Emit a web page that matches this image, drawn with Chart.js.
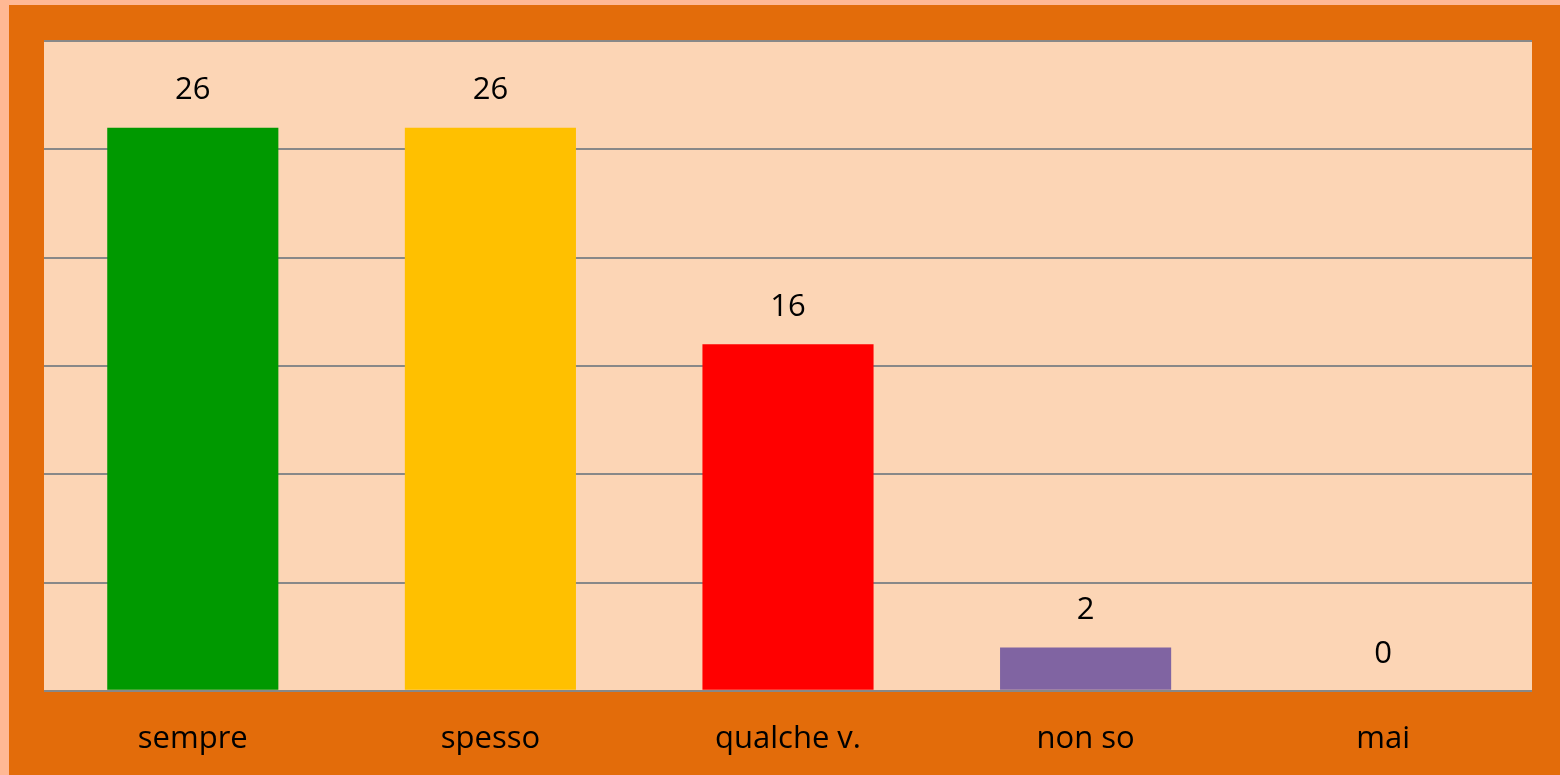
<!DOCTYPE html>
<html>
<head>
<meta charset="utf-8">
<script src="https://cdn.jsdelivr.net/npm/chart.js@4"></script>
<style>
  html, body { margin: 0; padding: 0; background: #FFB894; }
  #wrap { width: 1560px; height: 775px; position: relative; }
</style>
</head>
<body>
<div id="wrap"><canvas id="chart1"></canvas></div>
<script>
const labels = ['sempre', 'spesso', 'qualche v.', 'non so', 'mai'];
const values = [26, 26, 16, 2, 0];
const colors = ['#009900', '#FFC000', '#FF0000', '#8064A2', '#4F81BD'];
const yMax = 30;
const yStep = 5;

// sfondo arancione + area grafico color pesca
const background = {
    id: 'background',
    beforeDraw(chart) {
        const ctx = chart.ctx;
        const a = chart.chartArea;
        ctx.save();
        ctx.fillStyle = '#FFB894';
        ctx.fillRect(0, 0, chart.width, chart.height);
        ctx.fillStyle = '#E36C0A';
        ctx.fillRect(9, 5, chart.width - 9, chart.height - 5);
        ctx.fillStyle = '#FCD5B5';
        ctx.fillRect(a.left, a.top, a.right - a.left, a.bottom - a.top);
        ctx.restore();
    }
};

// etichette con i valori sopra le barre
const valueLabels = {
    id: 'valueLabels',
    afterDatasetsDraw(chart) {
        const ctx = chart.ctx;
        const meta = chart.getDatasetMeta(0);
        ctx.save();
        ctx.fillStyle = '#000';
        ctx.font = '31px "Open Sans"';
        ctx.textAlign = 'center';
        ctx.textBaseline = 'middle';
        meta.data.forEach((bar, i) => {
            ctx.fillText(values[i], bar.x, bar.y - 37);
        });
        ctx.restore();
    }
};

(function() {
    const chart = document.getElementById('chart1');

    const data = {
        labels: labels,
        datasets: [{
            data: values,
            backgroundColor: colors,
            barPercentage: 0.575,
            categoryPercentage: 1
        }]
    };

    const config = {
        type: 'bar',
        data: data,
        options: {
            responsive: true,
            maintainAspectRatio: false,
            animation: false,
            layout: { padding: { left: 44, right: 28, top: 41, bottom: -5 } },
            plugins: { legend: { display: false }, tooltip: { enabled: false } },
            scales: {
                x: {
                    grid: { display: false },
                    border: { display: false },
                    ticks: { color: '#000', font: { family: 'Open Sans', size: 31 }, padding: 22 }
                },
                y: {
                    min: 0,
                    max: yMax,
                    ticks: { display: false, stepSize: yStep },
                    border: { display: false },
                    grid: { color: '#888888', lineWidth: 2, drawTicks: false }
                }
            }
        },
        plugins: [background, valueLabels]
    };

    new Chart(chart, config);
})();
</script>
</body>
</html>
